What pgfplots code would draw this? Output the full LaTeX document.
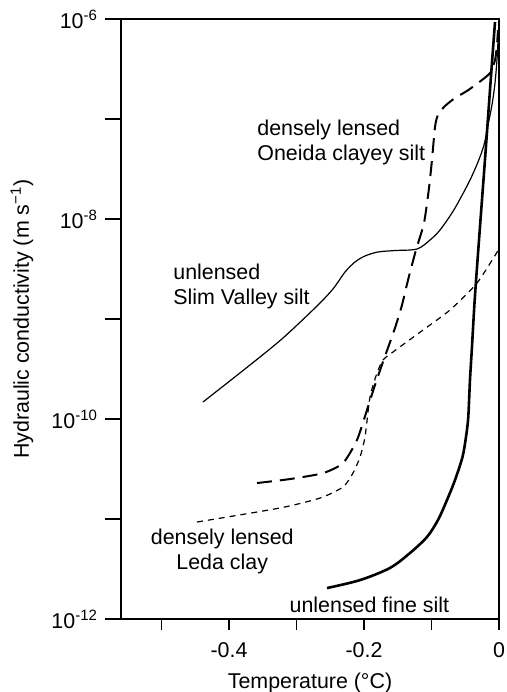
\documentclass[border=0pt]{standalone}
\usepackage{fontspec}
\setmainfont{Liberation Sans}
\usepackage{pgfplots}
\pgfplotsset{compat=1.18}
\begin{document}
\begin{tikzpicture}[font=\fontsize{10.7}{12.6}\selectfont]
\path[use as bounding box] (-60.5pt,-36.5pt) rectangle (193pt,309.5pt);
\begin{axis}[
  scale only axis, width=189pt, height=300pt,
  xmin=-0.56, xmax=0,
  ymode=log, ymin=1e-12, ymax=1e-6,
  xtick={-0.5,-0.4,-0.3,-0.2,-0.1,0},
  xticklabels={,-0.4,,-0.2,,0},
  ytick={1e-12,1e-11,1e-10,1e-9,1e-8,1e-7,1e-6},
  yticklabels={10\textsuperscript{-12},,10\textsuperscript{-10},,10\textsuperscript{-8},,10\textsuperscript{-6}},
  yminorticks=false, xminorticks=false,
  tick align=outside, tick pos=left,
  major tick length=8pt,
  x tick style={/pgfplots/major tick length=5.5pt},
  axis line style={line width=0.6pt},
  every tick/.style={black, line width=0.6pt},
  xlabel={Temperature (°C)},
  ylabel={Hydraulic conductivity (m s\textsuperscript{−1})},
  xlabel style={at={(axis description cs:0.5,-0.106)}, anchor=center},
  ylabel style={at={(axis description cs:-0.262,0.5)}, anchor=center},
  clip=false,
]
% unlensed fine silt
\addplot[black, line width=1.3pt, smooth, tension=0.5] coordinates {
(-0.2548,2.04e-12) (-0.2059,2.45e-12) (-0.1615,3.24e-12) (-0.1319,4.57e-12)
(-0.1067,6.61e-12) (-0.0904,9.77e-12) (-0.0770,1.55e-11) (-0.0652,2.45e-11)
(-0.0541,4.17e-11) (-0.0489,6.61e-11) (-0.0455,1.05e-10) (-0.0430,2.45e-10)
(-0.0403,4.90e-10) (-0.0360,1.55e-9) (-0.0307,4.90e-9) (-0.0252,1.55e-8)
(-0.0197,4.90e-8) (-0.0144,1.55e-7) (-0.0101,3.89e-7) (-0.0059,9.33e-7)};
% densely lensed Leda clay
\addplot[black, line width=0.6pt, dash pattern=on 3pt off 2.5pt, smooth, tension=0.4] coordinates {
(-0.4474,9.33e-12) (-0.3244,1.29e-11) (-0.2652,1.62e-11) (-0.2311,2.09e-11)
(-0.2163,2.88e-11) (-0.2059,4.17e-11) (-0.1985,6.61e-11) (-0.1911,1.66e-10)
(-0.1807,2.88e-10) (-0.1719,3.89e-10) (-0.1570,4.68e-10) (-0.1126,7.76e-10)
(-0.0726,1.23e-9) (-0.0326,2.29e-9) (0,5.01e-9)};
% densely lensed Oneida clayey silt
\addplot[black, line width=1pt, dash pattern=on 7.5pt off 4pt, smooth, tension=0.4] coordinates {
(-0.3585,2.29e-11) (-0.3096,2.51e-11) (-0.2607,2.88e-11) (-0.2311,3.63e-11)
(-0.2104,6.17e-11) (-0.1956,1.23e-10) (-0.1837,2.19e-10) (-0.1719,3.72e-10)
(-0.1541,8.13e-10) (-0.1437,1.38e-9) (-0.1348,2.45e-9) (-0.1230,4.90e-9)
(-0.1111,9.12e-9) (-0.1037,2.04e-8) (-0.0993,3.89e-8) (-0.0948,8.32e-8)
(-0.0904,1.10e-7) (-0.0800,1.35e-7) (-0.0652,1.62e-7) (-0.0474,1.91e-7)
(-0.0311,2.29e-7) (-0.0133,2.88e-7) (-0.0059,3.89e-7) (-0.0030,5.50e-7)
(-0.0015,7.76e-7)};
% unlensed Slim Valley silt
\addplot[black, line width=0.6pt, smooth, tension=0.5] coordinates {
(-0.4385,1.48e-10) (-0.3689,3.47e-10) (-0.3200,6.46e-10) (-0.2696,1.35e-9)
(-0.2459,2.00e-9) (-0.2281,2.95e-9) (-0.2133,3.72e-9) (-0.1985,4.27e-9)
(-0.1793,4.68e-9) (-0.1541,4.84e-9) (-0.1215,5.01e-9) (-0.1022,6.17e-9)
(-0.0874,7.76e-9) (-0.0696,1.15e-8) (-0.0578,1.58e-8) (-0.0430,2.45e-8)
(-0.0311,3.72e-8) (-0.0222,5.50e-8) (-0.0163,8.71e-8) (-0.0104,1.38e-7)
(-0.0059,2.29e-7) (-0.0030,3.89e-7) (-0.0015,5.89e-7)};
\node[anchor=west, align=left, inner sep=0pt] at (axis cs:-0.3585,5.82e-8) {densely lensed\\Oneida clayey silt};
\node[anchor=west, align=left, inner sep=0pt] at (axis cs:-0.483,2.11e-9) {unlensed\\Slim Valley silt};
\node[anchor=center, align=center, inner sep=0pt] at (axis cs:-0.410,4.73e-12) {densely lensed\\Leda clay};
\node[anchor=center, inner sep=0pt] at (axis cs:-0.192,1.38e-12) {unlensed fine silt};
\end{axis}
\end{tikzpicture}
\end{document}
